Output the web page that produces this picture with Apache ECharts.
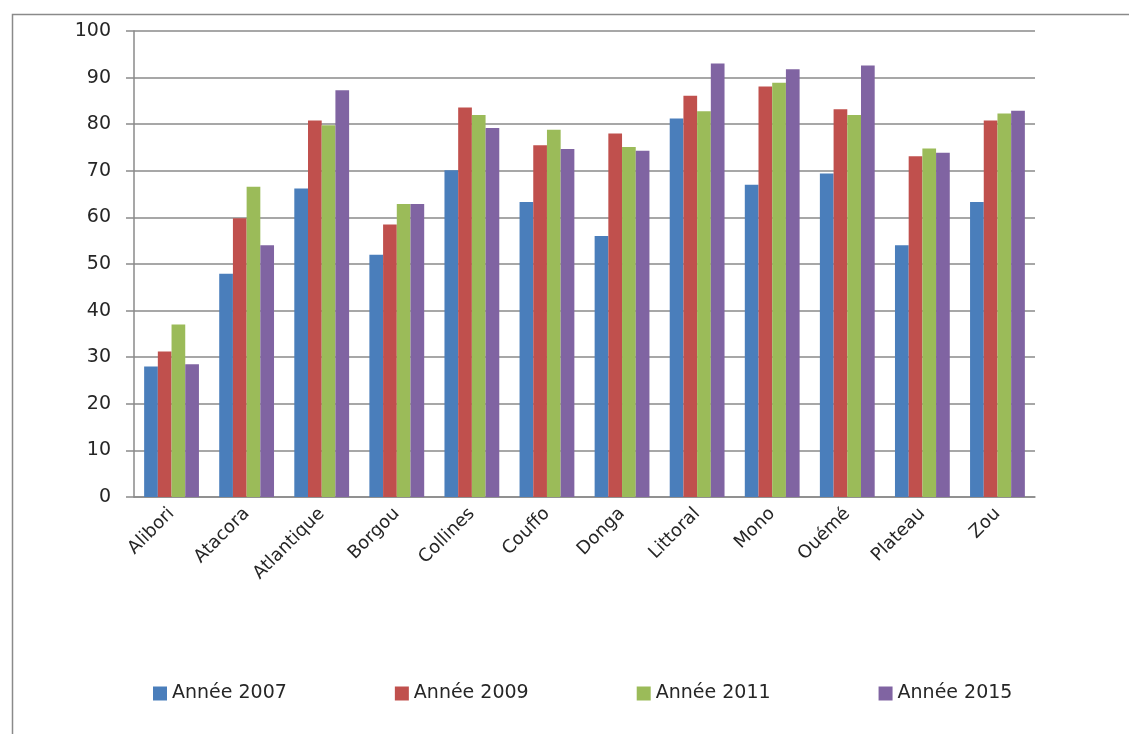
<!DOCTYPE html>
<html>
<head>
<meta charset="utf-8">
<title>Années par département</title>
<script src="https://cdn.jsdelivr.net/npm/echarts@6/dist/echarts.min.js"></script>
<style>
	html, body {
		margin: 0;
		padding: 0;
		background: #fff;
	}

	#main {
		width: 1129px;
		height: 734px;
	}
</style>
</head>
<body>
<div id="main"></div>
<script>
	// départements
	var categories = ['Alibori', 'Atacora', 'Atlantique', 'Borgou', 'Collines', 'Couffo',
		'Donga', 'Littoral', 'Mono', 'Ouémé', 'Plateau', 'Zou'];

	var seriesNames = ['Année 2007', 'Année 2009', 'Année 2011', 'Année 2015'];

	var annee2007 = [28.0, 47.9, 66.2, 52.0, 70.1, 63.3, 56.0, 81.2, 67.0, 69.4, 54.0, 63.3];
	var annee2009 = [31.2, 59.8, 80.8, 58.5, 83.6, 75.5, 78.0, 86.1, 88.1, 83.2, 73.1, 80.8];
	var annee2011 = [37.0, 66.6, 79.8, 62.9, 82.0, 78.8, 75.1, 82.8, 88.9, 82.0, 74.8, 82.3];
	var annee2015 = [28.5, 54.0, 87.3, 62.9, 79.2, 74.7, 74.3, 93.0, 91.8, 92.6, 73.9, 82.9];

	var yTicks = [0, 10, 20, 30, 40, 50, 60, 70, 80, 90, 100];

	var colors = ['#4a7ebb', '#c0504d', '#9bbb59', '#8064a2'];
	var values = [annee2007, annee2009, annee2011, annee2015];

	var myChart = echarts.init(document.getElementById('main'));

	var series = [];
	for (var i = 0; i < seriesNames.length; i++) {
		series.push({
			name: seriesNames[i],
			type: 'bar',
			data: values[i],
			barGap: '0%',
			barCategoryGap: '27%',
			itemStyle: {
				color: colors[i]
			}
		});
	}

	var option = {
		animation: false,
		color: colors,
		textStyle: {
			fontFamily: 'DejaVu Sans'
		},
		graphic: [{
			type: 'rect',
			left: 10,
			top: 12,
			shape: { width: 1140, height: 740 },
			style: { fill: 'none', stroke: '#8a8a8a', lineWidth: 1.5 },
			silent: true
		}],
		grid: {
			left: 134,
			right: 94,
			top: 31,
			bottom: 237
		},
		legend: {
			data: seriesNames,
			left: 148,
			top: 679,
			itemWidth: 14,
			itemHeight: 14,
			itemGap: 108,
			icon: 'rect',
			textStyle: {
				fontFamily: 'DejaVu Sans',
				fontSize: 19,
				color: '#262626'
			}
		},
		xAxis: {
			type: 'category',
			data: categories,
			axisLine: {
				lineStyle: { color: '#8a8a8a', width: 1.5 }
			},
			axisTick: {
				length: 8,
				lineStyle: { color: '#8a8a8a', width: 1.5 }
			},
			axisLabel: {
				rotate: 45,
				margin: 14,
				fontSize: 18,
				color: '#262626'
			}
		},
		yAxis: {
			type: 'value',
			min: yTicks[0],
			max: yTicks[yTicks.length - 1],
			interval: 10,
			axisLine: {
				show: true,
				lineStyle: { color: '#8a8a8a', width: 1.5 }
			},
			axisTick: {
				show: true,
				length: 8,
				lineStyle: { color: '#8a8a8a', width: 1.5 }
			},
			splitLine: {
				lineStyle: { color: '#8a8a8a', width: 1.5 }
			},
			axisLabel: {
				margin: 23,
				fontSize: 19,
				color: '#262626'
			}
		},
		series: series
	};

	myChart.setOption(option);
</script>
</body>
</html>
